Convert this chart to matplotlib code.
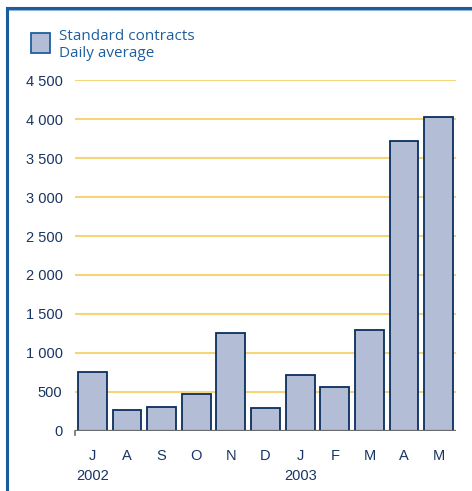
import numpy as np
import matplotlib.pyplot as plt
from matplotlib.lines import Line2D
from matplotlib.patches import Rectangle

#--------------------- Data ---------------------
months = ['J', 'A', 'S', 'O', 'N', 'D', 'J', 'F', 'M', 'A', 'M']
years = {0: '2002', 6: '2003'}
daily_avg = [750, 262, 300, 467, 1251, 288, 711, 557, 1289, 3716, 4025]
yticks = [0, 500, 1000, 1500, 2000, 2500, 3000, 3500, 4000, 4500]

navy = '#173463'
blue = '#1f5f9f'
bar_col = '#b4bdd6'
edge_col = '#0b2d5e'
grid_col = '#f6d47a'

#--------------------- Figure ---------------------
fig = plt.figure(figsize=(4.72, 4.91), dpi=100)
ax = fig.add_axes([0.1589, 0.1228, 0.8072, 0.7137])

x = np.arange(len(months))
for v in yticks[1:]:
	ax.axhline(v, color=grid_col, lw=1.5, zorder=1)
ax.bar(x, daily_avg, width=0.83, color=bar_col, edgecolor=edge_col, lw=1.3, zorder=2)
ax.axhline(0, color='#6b6b6b', lw=1.6, zorder=3)

ax.set_xlim(-0.5, len(months) - 0.5)
ax.set_ylim(0, 4500)
for s in ax.spines.values():
	s.set_visible(False)

ax.set_yticks(yticks)
ax.set_yticklabels([f'{v:,}'.replace(',', ' ') for v in yticks], fontsize=10.5,
				   color=navy, family='Liberation Sans')
ax.tick_params(axis='y', length=0, pad=9)
ax.set_xticks(x)
ax.set_xticklabels(months, fontsize=10.5, color=navy, family='Liberation Sans')
ax.tick_params(axis='x', length=0, pad=13)
for i, yr in years.items():
	ax.text(i, -0.108, yr, transform=ax.get_xaxis_transform(), ha='center', va='top',
			fontsize=10.5, color=navy, family='Liberation Sans')

# little tick at the left end of the zero line
ax.plot([-0.5, -0.5], [0, -50], color='#6b6b6b', lw=1.2, clip_on=False, zorder=3)

#--------------------- Legend ---------------------
fig.add_artist(Rectangle((0.066, 0.893), 0.040, 0.040, transform=fig.transFigure,
						 facecolor=bar_col, edgecolor='#1f5f9f', lw=1.3))
fig.text(0.124, 0.908, 'Standard contracts\nDaily average', ha='left', va='center',
		 fontsize=11, color=blue, family='Open Sans', linespacing=1.15)

#--------------------- Frame ---------------------
fig.add_artist(Line2D([0.0148, 1.0], [0.9847, 0.9847], color='#1a5c9c', lw=2.2))
fig.add_artist(Line2D([0.0148, 1.0], [0.980, 0.980], color='#8fb5dc', lw=0.8))
fig.add_artist(Line2D([0.0148, 0.0148], [0.0, 0.9847], color='#1a5c9c', lw=2.2))

fig.savefig('out.png', dpi=100)
